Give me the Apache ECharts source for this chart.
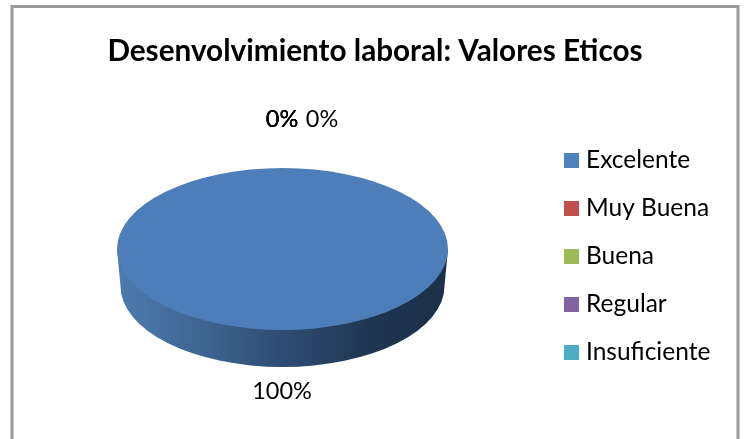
<!DOCTYPE html>
<html><head><meta charset="utf-8">
<style>html,body{margin:0;padding:0;background:#fff}#c{width:745px;height:439px}</style>
<script src="https://cdn.jsdelivr.net/npm/echarts@6/dist/echarts.min.js"></script>
</head><body><div id="c"></div>
<script>
const titleText = 'Desenvolvimiento laboral: Valores Eticos';
const categories = ['Excelente','Muy Buena','Buena','Regular','Insuficiente'];
const values = [100,0,0,0,0];
const colors = ['#4f81bd','#c0504d','#9bbb59','#8064a2','#4bacc6'];
const total = values.reduce((a,b)=>a+b,0);
const CX=282.5, CY=249, RX=165.5, RY=81, RX2=162, CY2=286;
const labelPos = [[282,391],[282,119],[282,119],[282,119],[322,119]];
function pt(a){return [CX+RX*Math.sin(a), CY-RY*Math.cos(a)];}
function render(idx){
  return function(){
    let before=0; for(let i=0;i<idx;i++) before+=values[i];
    const a0=before/total*2*Math.PI, a1=(before+values[idx])/total*2*Math.PI;
    const children=[];
    const pct=Math.round(values[idx]/total*100)+'%';
    if(values[idx]>0){
      const full=a1-a0>=2*Math.PI-1e-6;
      const rim=`M${CX-RX} ${CY} L${CX-RX2} ${CY2} A${RX2} ${RY} 0 0 0 ${CX+RX2} ${CY2} L${CX+RX} ${CY} Z`;
      children.push({type:'path',shape:{pathData:rim,x:CX-RX,y:CY,width:2*RX,height:CY2+RY-CY,layout:'cover'},
        style:{fill:new echarts.graphic.LinearGradient(0,0,1,0,[
          {offset:0,color:'#4d7bb0'},{offset:0.25,color:'#3f6692'},{offset:0.5,color:'#2e4c72'},
          {offset:0.78,color:'#1f3550'},{offset:1,color:'#1c3049'}])}});
      const topPath=full?`M${CX} ${CY-RY} A${RX} ${RY} 0 0 1 ${CX} ${CY+RY} A${RX} ${RY} 0 0 1 ${CX} ${CY-RY} Z`
        :`M${CX} ${CY} L${pt(a0).join(' ')} A${RX} ${RY} 0 ${a1-a0>Math.PI?1:0} 1 ${pt(a1).join(' ')} Z`;
      children.push({type:'path',shape:{pathData:topPath,x:CX-RX,y:CY-RY,width:2*RX,height:2*RY,layout:'cover'},
        style:{fill:'#4e7eb9'}});
    }
    children.push({type:'text',x:labelPos[idx][0],y:labelPos[idx][1],
      style:{text:pct,fill:'#000',font:'23.5px Lato, sans-serif',align:'center',verticalAlign:'middle'}});
    return {type:'group',children};
  };
}
const chart=echarts.init(document.getElementById('c'),null,{renderer:'canvas'});
chart.setOption({
  animation:false,
  backgroundColor:'#fff',
  title:{text:titleText,left:370,top:31,textAlign:'center',
    textStyle:{fontFamily:'Lato, sans-serif',fontWeight:'bold',fontSize:29.7,color:'#000'}},
  legend:{orient:'vertical',left:559,top:143,itemWidth:15,itemHeight:15,itemGap:23,icon:'rect',
    data:categories,selectedMode:false,
    textStyle:{fontFamily:'Lato, sans-serif',fontSize:24.5,lineHeight:24,color:'#000',padding:[0,0,0,2]}},
  graphic:[{type:'rect',z:-1,shape:{x:12,y:6.5,width:726,height:445},style:{fill:'#fff',stroke:'#9a9a9a',lineWidth:3}}],
  series:categories.map((n,i)=>({type:'custom',name:n,coordinateSystem:'none',
    renderItem:render(i),data:[values[i]],itemStyle:{color:colors[i]},silent:true}))
});
</script></body></html>
